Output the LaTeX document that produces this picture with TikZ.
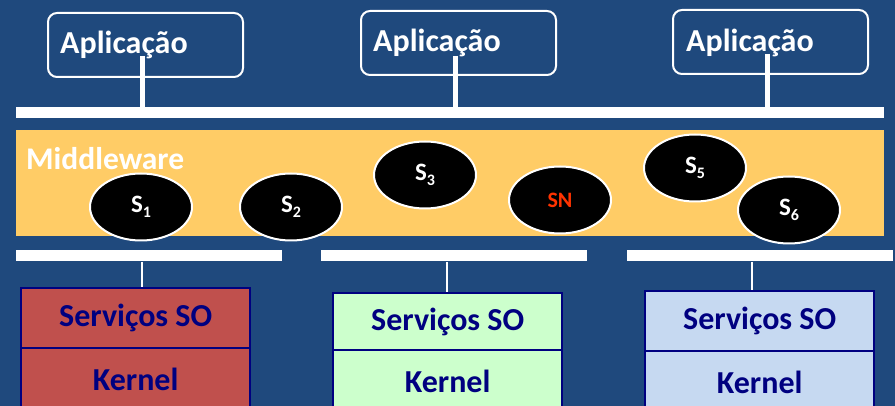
\documentclass[tikz,border=0pt]{standalone}
\usepackage{fontspec}
\setmainfont{Carlito}
\usetikzlibrary{shapes.geometric}
\definecolor{bg}{HTML}{1F497D}
\definecolor{mw}{HTML}{FFCC66}
\definecolor{navy}{HTML}{000080}
\definecolor{osred}{HTML}{C0504D}
\definecolor{osgreen}{HTML}{CCFFCC}
\definecolor{osblue}{HTML}{C6D9F1}
\definecolor{snred}{HTML}{FF3300}
\newcommand{\svclabel}[2]{\fontsize{25}{25}\selectfont\bfseries #1\raisebox{-5pt}{\fontsize{16}{16}\selectfont #2}}
\begin{document}
\begin{tikzpicture}[x=1pt,y=-1pt,
  appbox/.style={draw=white,line width=2pt,rounded corners=9pt,anchor=north west,
    minimum width=195pt,minimum height=64pt,inner sep=0pt},
  apptext/.style={text=white,anchor=base west,inner sep=0pt,font=\fontsize{32}{32}\selectfont\bfseries},
  barbox/.style={fill=white,anchor=north west,inner sep=0pt,minimum height=11pt},
  stemthick/.style={draw=white,line width=5pt},
  stemthin/.style={draw=white,line width=2.5pt},
  svc/.style={ellipse,draw=white,line width=2pt,fill=black,text=white,inner sep=0pt,
    minimum width=102pt,minimum height=67pt},
  osbox/.style={draw=navy,line width=2.4pt,anchor=north west,inner sep=0pt,
    minimum width=229pt,text=navy,font=\fontsize{32}{32}\selectfont\bfseries}
]
\useasboundingbox (0,0) rectangle (895,406);
\clip (0,0) rectangle (895,406);
\fill[bg] (0,0) rectangle (895,406);

% application boxes
\node[appbox] (app1) at (47,12) {};
\node[appbox] (app2) at (360,10) {};
\node[appbox] (app3) at (672,9) {};
\node[apptext] (app1t) at (60,54) {Aplicação};
\node[apptext] (app2t) at (373,52) {Aplicação};
\node[apptext] (app3t) at (686,52) {Aplicação};

% upper bus
\node[barbox,minimum width=868pt] (topbar) at (16,107) {};
\coordinate (t1) at (142,56);
\coordinate (t2) at (455,56);
\coordinate (t3) at (767,54);
\draw[stemthick] (t1) -- (t1 |- topbar.north);
\draw[stemthick] (t2) -- (t2 |- topbar.north);
\draw[stemthick] (t3) -- (t3 |- topbar.north);

% middleware layer
\node[fill=mw,anchor=north west,inner sep=0pt,minimum width=868pt,minimum height=106pt] (mid) at (16,130) {};
\node[text=white,anchor=base west,inner sep=0pt,font=\fontsize{31.5}{31.5}\selectfont\bfseries] (midt) at (26,170) {Middleware};

% services
\node[svc] (s1) at (141,207) {\svclabel{S}{1}};
\node[svc] (s2) at (291,207) {\svclabel{S}{2}};
\node[svc] (s3) at (425,175) {\svclabel{S}{3}};
\node[svc,text=snred,font=\fontsize{22}{22}\selectfont\bfseries] (sn) at (560,200) {SN};
\node[svc] (s5) at (695,168) {\svclabel{S}{5}};
\node[svc] (s6) at (789,210) {\svclabel{S}{6}};

% lower buses
\node[barbox,minimum width=266pt] (bar1) at (16,250) {};
\node[barbox,minimum width=266pt] (bar2) at (321,250) {};
\node[barbox,minimum width=266pt] (bar3) at (627,250) {};

% operating system stacks
\node[osbox,fill=osred,minimum height=60pt] (os1) at (20,287) {Serviços SO};
\node[osbox,fill=osred,minimum height=62pt] (k1) at (20,347) {Kernel};
\node[osbox,fill=osgreen,minimum height=57pt] (os2) at (332,292) {Serviços SO};
\node[osbox,fill=osgreen,minimum height=62pt] (k2) at (332,349) {Kernel};
\node[osbox,fill=osblue,minimum height=60pt] (os3) at (644,290) {Serviços SO};
\node[osbox,fill=osblue,minimum height=62pt] (k3) at (644,350) {Kernel};

\coordinate (b1) at (142,262);
\coordinate (b2) at (447,262);
\coordinate (b3) at (752,262);
\draw[stemthin] (b1) -- (b1 |- os1.north);
\draw[stemthin] (b2) -- (b2 |- os2.north);
\draw[stemthin] (b3) -- (b3 |- os3.north);
\end{tikzpicture}
\end{document}
